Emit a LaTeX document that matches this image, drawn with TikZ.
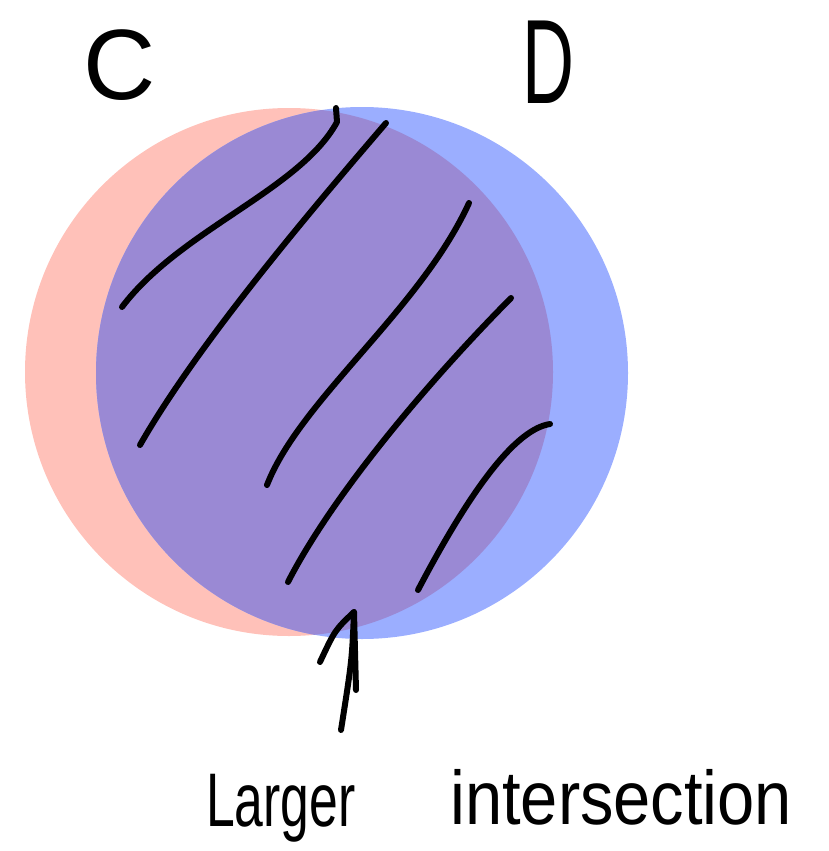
\documentclass[tikz,border=0pt]{standalone}
\usepackage{fontspec}
\setmainfont{Liberation Sans}
\definecolor{cred}{HTML}{FFC1B9}
\definecolor{cblue}{HTML}{9BAEFF}
\definecolor{cmix}{HTML}{9A89D4}
\begin{document}
\begin{tikzpicture}[x=1pt,y=-1pt,
  pen/.style={line width=6pt,line cap=round,line join=round},
  bigtext/.style={inner sep=0pt,font=\fontsize{76}{76}\selectfont}]
\useasboundingbox (0,0) rectangle (828,851);
% sets
\fill[cred] (289,372) circle[radius=264];
\fill[cblue] (362,373) circle[radius=266];
\begin{scope}
  \clip (289,372) circle[radius=264];
  \fill[cmix] (362,373) circle[radius=266];
\end{scope}
% hatching
\draw[pen] (336,108) -- (337,122) .. controls (300,190) and (180,230) .. (122,307);
\draw[pen] (386,123) .. controls (320,200) and (200,340) .. (140,445);
\draw[pen] (469,203) .. controls (420,310) and (300,400) .. (267,485);
\draw[pen] (511,298) .. controls (420,390) and (330,500) .. (288,582);
\draw[pen] (550,424) .. controls (510,430) and (460,510) .. (418,590);
% labels
\node[inner sep=0pt,font=\fontsize{100}{100}\selectfont] (C) at (120,65) {C};
\node[inner sep=0pt,font=\fontsize{120}{120}\selectfont] (D) at (548,62) {\scalebox{0.6}[1]{D}};
\node[bigtext,anchor=base west] (L) at (206,826) {\scalebox{0.68}[1]{Larger}};
\node[bigtext,anchor=base west] (I) at (450,824) {\scalebox{0.88}[1]{intersection}};
% arrow to the intersection
\coordinate (tip) at (354,612);
\draw[pen] (320,662) .. controls (335,630) .. (tip) -- (356,690);
\draw[pen] (tip) .. controls (352,660) .. (341,730);
\end{tikzpicture}
\end{document}
